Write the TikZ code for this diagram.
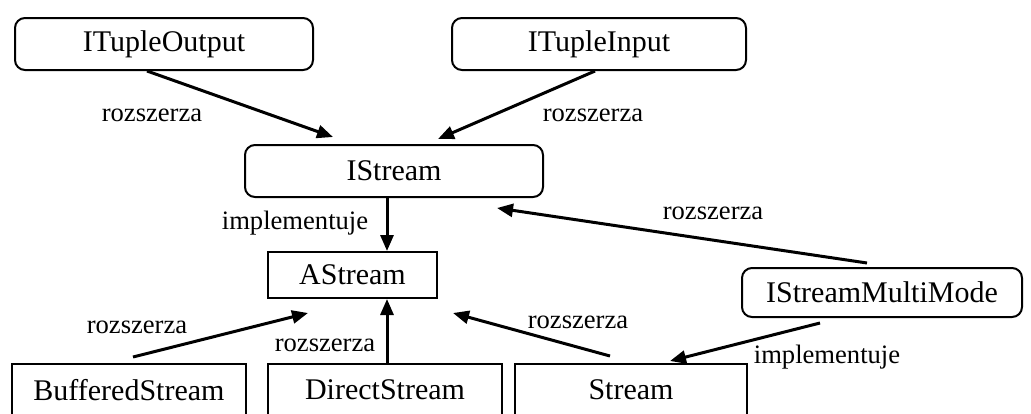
\documentclass[tikz,border=0pt]{standalone}
\usepackage{fontspec}
\setmainfont{Liberation Serif}
\usetikzlibrary{arrows.meta}
\begin{document}
\begin{tikzpicture}[x=0.5pt,y=-0.5pt,
  rbox/.style={draw,line width=1pt,rounded corners=5pt,inner sep=0pt,font=\fontsize{15}{17}\selectfont},
  sbox/.style={draw,line width=1pt,inner sep=0pt,font=\fontsize{15}{17}\selectfont},
  arr/.style={line width=1.5pt,-{Triangle[length=8pt,width=6.5pt]}},
  lbl/.style={inner sep=0pt,font=\fontsize{13.3}{16}\selectfont}]
\useasboundingbox (0,0) rectangle (1031,413);
\clip (0,0) rectangle (1031,413);
\fill[white] (0,0) rectangle (1031,413);
\node[rbox,minimum width=149pt,minimum height=26pt] (A) at (164,44) {ITupleOutput};
\node[rbox,minimum width=147pt,minimum height=26pt] (B) at (599,44) {ITupleInput};
\node[rbox,minimum width=149pt,minimum height=26pt] (C) at (394,171) {IStream};
\node[sbox,minimum width=84.5pt,minimum height=23pt] (D) at (352.5,275) {AStream};
\node[sbox,minimum width=117pt,minimum height=26pt] (E) at (129,390) {BufferedStream};
\node[sbox,minimum width=117pt,minimum height=26pt] (F) at (385,390) {DirectStream};
\node[sbox,minimum width=116pt,minimum height=26pt] (G) at (631,390) {Stream};
\node[rbox,minimum width=140pt,minimum height=24.5pt] (H) at (882,292.5) {IStreamMultiMode};
\draw[arr] ([shift={(-17,0)}]A.south) -- ([shift={(-61,-7)}]C.north);
\draw[arr] ([shift={(-4,0)}]B.south) -- ([shift={(44,-5)}]C.north);
\draw[arr] ([shift={(-7,0)}]C.south) -- ([shift={(34.5,0)}]D.north);
\draw[arr] ([shift={(-15,-4)}]H.north) -- ([shift={(103,10)}]C.south);
\draw[arr] ([shift={(4,-6)}]E.north) -- ([shift={(-44.5,14)}]D.south);
\draw[arr] ([shift={(2,0)}]F.north) -- ([shift={(34.5,0)}]D.south);
\draw[arr] ([shift={(-21,-7)}]G.north) -- ([shift={(100.5,14)}]D.south);
\draw[arr] ([shift={(-62,5)}]H.south) -- ([shift={(39,-2)}]G.north);
\node[lbl] (l1) at (152,115) {rozszerza};
\node[lbl] (l2) at (593,115) {rozszerza};
\node[lbl] (l3) at (295,223) {implementuje};
\node[lbl] (l4) at (713,213) {rozszerza};
\node[lbl] (l5) at (137,327) {rozszerza};
\node[lbl] (l6) at (325,345) {rozszerza};
\node[lbl] (l7) at (578,322) {rozszerza};
\node[lbl] (l8) at (827,357) {implementuje};
\end{tikzpicture}
\end{document}
